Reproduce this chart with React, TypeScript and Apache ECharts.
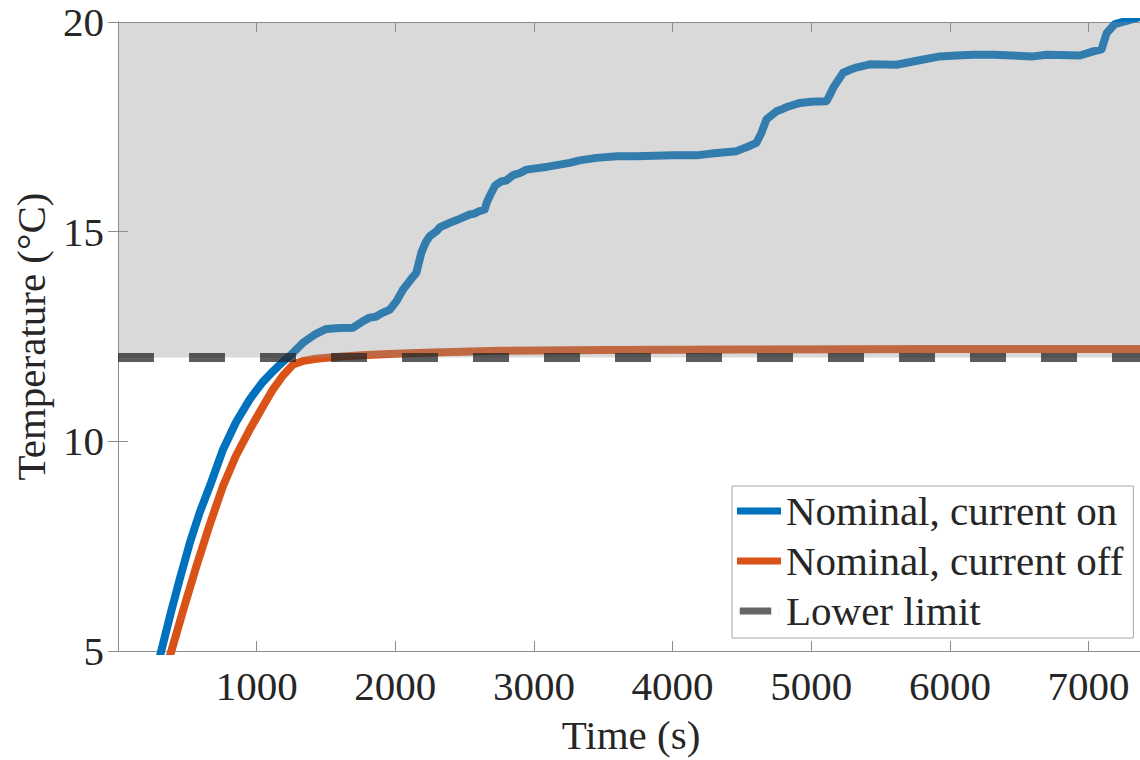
import React, { useEffect, useRef } from "react";
import * as echarts from "echarts";

// Measured temperature with the heating current switched on
const timeOn = [270, 312, 380, 444, 520, 589, 670, 757, 850, 950, 1040, 1118, 1190, 1250, 1334, 1420, 1503, 1600, 1695, 1760, 1815, 1860, 1900, 1960, 2010, 2056, 2110, 2152, 2188, 2220, 2248, 2300, 2320, 2392, 2430, 2460, 2537, 2570, 2600, 2645, 2660, 2681, 2720, 2765, 2800, 2850, 2900, 2946, 3100, 3258, 3330, 3451, 3600, 3740, 4000, 4172, 4300, 4461, 4560, 4605, 4641, 4677, 4749, 4790, 4830, 4918, 5000, 5110, 5140, 5158, 5230, 5280, 5330, 5423, 5615, 5800, 5928, 6050, 6168, 6313, 6450, 6601, 6698, 6938, 7034, 7094, 7131, 7190, 7300, 7400];
const tempOn = [4.45, 5.0, 5.9, 6.7, 7.6, 8.3, 9.0, 9.8, 10.45, 11.0, 11.4, 11.67, 11.9, 12.07, 12.35, 12.55, 12.68, 12.7, 12.71, 12.85, 12.95, 12.97, 13.05, 13.14, 13.35, 13.62, 13.85, 14.02, 14.5, 14.75, 14.89, 15.02, 15.1, 15.21, 15.26, 15.3, 15.41, 15.43, 15.48, 15.53, 15.7, 15.85, 16.1, 16.2, 16.22, 16.35, 16.4, 16.48, 16.55, 16.64, 16.7, 16.76, 16.8, 16.8, 16.82, 16.82, 16.87, 16.92, 17.05, 17.12, 17.36, 17.68, 17.87, 17.92, 17.98, 18.07, 18.1, 18.11, 18.3, 18.43, 18.79, 18.86, 18.92, 18.99, 18.98, 19.1, 19.18, 19.2, 19.22, 19.22, 19.2, 19.18, 19.22, 19.2, 19.3, 19.35, 19.74, 19.95, 20.05, 20.15];

// Measured temperature with the heating current switched off
const timeOff = [330, 385, 470, 565, 660, 757, 850, 950, 1040, 1118, 1190, 1262, 1340, 1430, 1600, 1791, 2000, 2272, 2753, 3500, 4500, 6000, 7400];
const tempOff = [4.38, 5.0, 5.97, 7.02, 8.0, 8.93, 9.65, 10.28, 10.8, 11.24, 11.57, 11.83, 11.92, 11.97, 12.02, 12.06, 12.09, 12.12, 12.16, 12.18, 12.19, 12.2, 12.2];

// Operating limits
const lowerLimit = 12;
const shadedBand = [12, 20];

// Axis ranges
const timeRange = [0, 7400];
const tempRange = [5, 20];
const timeStep = 1000;
const tempStep = 5;

const seriesNames = ["Nominal, current on", "Nominal, current off", "Lower limit"];

const FONT = "Liberation Serif";
const FONT_SIZE = 41;
const TEXT = "#262626";
const AXIS = "#8c8c8c";

const zip = (xs: number[], ys: number[]) => xs.map((x, i) => [x, ys[i]]);

export default function App() {
  const ref = useRef<HTMLDivElement>(null);

  useEffect(() => {
    if (!ref.current) return;
    const chart = echarts.init(ref.current, undefined, { renderer: "svg" });

    const axisCommon = {
      axisLine: { show: true, lineStyle: { color: AXIS, width: 1 } },
      axisTick: { show: true, inside: true, length: 10, lineStyle: { color: AXIS, width: 1 } },
      splitLine: { show: false },
    };

    chart.setOption({
      animation: false,
      backgroundColor: "#ffffff",
      grid: { left: 118, top: 22, right: 6, bottom: 108, containLabel: false },
      xAxis: [
        {
          type: "value",
          min: timeRange[0],
          max: timeRange[1],
          interval: timeStep,
          position: "bottom",
          ...axisCommon,
          axisLabel: {
            show: true,
            margin: 14,
            showMinLabel: false,
            showMaxLabel: false,
            fontFamily: FONT,
            fontSize: FONT_SIZE,
            color: TEXT,
            formatter: (v: number) => (v % timeStep === 0 && v > 0 ? String(v) : ""),
          },
          name: "Time (s)",
          nameLocation: "middle",
          nameGap: 63,
          nameTextStyle: { fontFamily: FONT, fontSize: FONT_SIZE, color: TEXT },
        },
        {
          type: "value",
          min: timeRange[0],
          max: timeRange[1],
          interval: timeStep,
          position: "top",
          ...axisCommon,
          axisLabel: { show: false },
        },
      ],
      yAxis: [
        {
          type: "value",
          min: tempRange[0],
          max: tempRange[1],
          interval: tempStep,
          position: "left",
          ...axisCommon,
          axisLabel: {
            show: true,
            margin: 14,
            fontFamily: FONT,
            fontSize: FONT_SIZE,
            color: TEXT,
          },
          name: "Temperature (°C)",
          nameLocation: "middle",
          nameGap: 67,
          nameTextStyle: { fontFamily: FONT, fontSize: FONT_SIZE, color: TEXT },
        },
        {
          type: "value",
          min: tempRange[0],
          max: tempRange[1],
          interval: tempStep,
          position: "right",
          ...axisCommon,
          axisLabel: { show: false },
        },
      ],
      legend: {
        orient: "vertical",
        left: 732,
        top: 486,
        padding: [4, 10, 6, 5],
        itemWidth: 44,
        itemHeight: 7,
        itemGap: 8,
        backgroundColor: "#ffffff",
        borderColor: "#a6a6a6",
        borderWidth: 1,
        borderRadius: 0,
        itemStyle: { borderWidth: 0 },
        textStyle: { fontFamily: FONT, fontSize: FONT_SIZE, color: TEXT, lineHeight: 42, padding: [0, 0, 0, 0] },
        data: [
          { name: seriesNames[0], icon: "rect", itemStyle: { color: "#0072BD", borderWidth: 0 } },
          { name: seriesNames[1], icon: "rect", itemStyle: { color: "#D95319", borderWidth: 0 } },
          {
            name: seriesNames[2],
            icon: "path://M0,0H36V8H0Z M43.9,0H44V8H43.9Z",
            itemStyle: { color: "#666666", borderWidth: 0 },
          },
        ],
      },
      series: [
        {
          name: seriesNames[0],
          type: "line",
          data: zip(timeOn, tempOn),
          showSymbol: false,
          smooth: false,
          clip: true,
          color: "#0072BD",
          lineStyle: { color: "#0072BD", width: 8, cap: "round", join: "round" },
          z: 2,
        },
        {
          name: seriesNames[1],
          type: "line",
          data: zip(timeOff, tempOff),
          showSymbol: false,
          smooth: false,
          clip: true,
          color: "#D95319",
          lineStyle: { color: "#D95319", width: 8, cap: "round", join: "round" },
          z: 2,
        },
        {
          name: "band",
          type: "custom",
          data: [[timeRange[0], timeRange[1], shadedBand[0], shadedBand[1]]],
          encode: { x: [0, 1], y: [2, 3] },
          silent: true,
          z: 3,
          renderItem: (_params: any, api: any) => {
            const p1 = api.coord([api.value(0), api.value(3)]);
            const p2 = api.coord([api.value(1), api.value(2)]);
            return {
              type: "rect",
              shape: { x: p1[0], y: p1[1], width: p2[0] - p1[0], height: p2[1] - p1[1] },
              style: { fill: "rgba(145,145,145,0.345)" },
            };
          },
        },
        {
          name: seriesNames[2],
          type: "line",
          data: [
            [timeRange[0], lowerLimit],
            [timeRange[1], lowerLimit],
          ],
          showSymbol: false,
          color: "rgba(38,38,38,0.75)",
          lineStyle: { color: "rgba(38,38,38,0.75)", width: 9, type: [36, 35], cap: "butt" },
          z: 4,
        },
      ],
    });

    return () => chart.dispose();
  }, []);

  return (
    <div
      ref={ref}
      style={{ position: "fixed", left: 0, top: 0, width: 1150, height: 760, background: "#fff" }}
    />
  );
}
